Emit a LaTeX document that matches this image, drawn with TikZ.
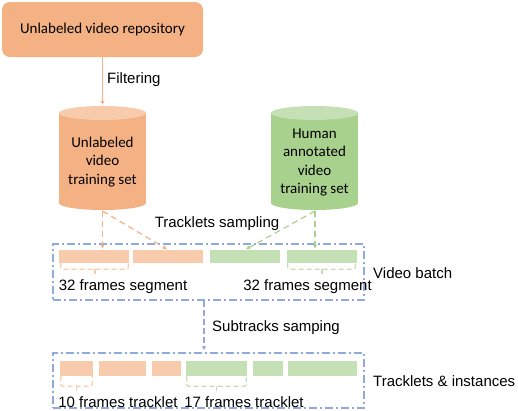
\documentclass[tikz,border=0pt]{standalone}
\usepackage{fontspec}
\setmainfont{Liberation Sans}
\newfontfamily\calfont{Carlito}
\usetikzlibrary{arrows.meta,calc}
\definecolor{org}{HTML}{F4B183}
\definecolor{lorg}{HTML}{F8CBAD}
\definecolor{grn}{HTML}{A9D18E}
\definecolor{lgrn}{HTML}{C5E0B4}
\definecolor{blu}{HTML}{8FAADC}
\tikzset{
  lbl/.style={inner sep=0pt, font=\fontsize{15}{18}\selectfont},
  caltext/.style={inner sep=0pt, align=center, font=\calfont\fontsize{15}{18.5}\selectfont},
  obar/.style={fill=lorg, inner sep=0pt, minimum height=#1},
  gbar/.style={fill=lgrn, inner sep=0pt, minimum height=#1},
  dashbox/.style={draw=blu, line width=1.2pt, dash pattern=on 8pt off 3pt on 2pt off 3pt, inner sep=0pt},
  oarrow/.style={draw=org, line width=1.2pt, dash pattern=on 6pt off 4pt, -{Latex[length=4pt,width=4.5pt]}},
  garrow/.style={draw=grn, line width=1.2pt, dash pattern=on 6pt off 4pt, -{Latex[length=4pt,width=4.5pt]}},
  obrace/.style={draw=lorg, line width=1.2pt, dash pattern=on 5pt off 3pt, rounded corners=1.5pt},
  gbrace/.style={draw=lgrn, line width=1.2pt, dash pattern=on 5pt off 3pt, rounded corners=1.5pt},
}
\begin{document}
\begin{tikzpicture}[x=1pt,y=-1pt]
\useasboundingbox (0,0) rectangle (518,410);

% top box
\node[fill=org, rounded corners=8pt, minimum width=201pt, minimum height=55pt, inner sep=0pt,
      font=\calfont\fontsize{15}{18}\selectfont] (repo) at (102.5,29.5) {Unlabeled video repository};

% left cylinder
\fill[org] (59,113) rectangle (146,203);
\fill[org] (102.5,203) ellipse [x radius=43.5, y radius=7];
\fill[lorg] (102.5,113) ellipse [x radius=43.5, y radius=7];
\coordinate (ltop) at (102.5,106);
\coordinate (lbot) at (102.5,211);
\node[caltext] (lcyl) at (102.5,162) {Unlabeled\\video\\training set};

% right cylinder
\fill[grn] (271,113) rectangle (358,203);
\fill[grn] (314.5,203) ellipse [x radius=43.5, y radius=7];
\fill[lgrn] (314.5,113) ellipse [x radius=43.5, y radius=7];
\coordinate (rbot) at (315,211);
\node[caltext] (rcyl) at (314.5,162.5) {Human\\annotated\\video\\training set};

% filtering
\draw[org, line width=1.2pt, -{Latex[length=4pt,width=4.5pt]}, shorten >=1pt] (repo.south) -- (ltop);
\node[lbl, anchor=west] (filt) at (107,80) {Filtering};

% video batch
\node[dashbox, minimum width=311pt, minimum height=56pt] (vb) at (208.5,272) {};
\node[obar=13pt, minimum width=70pt] (ob1) at (94,256.5) {};
\node[obar=13pt, minimum width=70pt] (ob2) at (168,256.5) {};
\node[gbar=13pt, minimum width=70pt] (gb1) at (245,256.5) {};
\node[gbar=13pt, minimum width=70pt] (gb2) at (322,256.5) {};

\draw[oarrow, shorten >=1pt] (lbot) -- (lbot |- ob1.north);
\draw[oarrow, shorten >=1pt] (lbot) -- (ob2.north);
\draw[garrow, shorten >=1pt] (rbot) -- (gb1.north);
\draw[garrow, shorten >=1pt] (rbot) -- (rbot |- gb2.north);
\node[lbl] (ts) at (217,224) {Tracklets sampling};

\draw[obrace] ($(ob1.south west)+(2,0)$) -- ($(ob1.south west)+(2,6)$) -- ($(ob1.south east)+(-1,6)$) -- ($(ob1.south east)+(-1,0)$);
\draw[obrace] ($(ob1.south)+(1,6)$) -- ($(ob1.south)+(1,13)$);
\draw[gbrace] ($(gb2.south west)+(1,0)$) -- ($(gb2.south west)+(1,6)$) -- ($(gb2.south east)+(-2,6)$) -- ($(gb2.south east)+(-2,0)$);
\draw[gbrace] ($(gb2.south)+(0,6)$) -- ($(gb2.south)+(0,13)$);

\node[lbl] (seg1) at (123,287) {32 frames segment};
\node[lbl] (seg2) at (307.5,287) {32 frames segment};
\node[lbl, anchor=west] (vbl) at (373,273) {Video batch};

% tracklets box
\node[dashbox, minimum width=311pt, minimum height=55pt] (tb) at (208.5,380.5) {};
\draw[draw=blu, line width=1.2pt, dash pattern=on 6pt off 3pt, -{Latex[length=4pt,width=4.5pt]}, shorten >=2pt]
  ($(vb.south)+(-4.5,0)$) -- ($(tb.north)+(-4.5,0)$);
\node[lbl, anchor=west] (sub) at (212,328) {Subtracks samping};

\node[obar=15pt, minimum width=33pt] (o1) at (76.5,368.5) {};
\node[obar=15pt, minimum width=47pt] (o2) at (122.5,368.5) {};
\node[obar=15pt, minimum width=29pt] (o3) at (166.5,368.5) {};
\node[gbar=15pt, minimum width=61pt] (g1) at (216.5,368.5) {};
\node[gbar=15pt, minimum width=30pt] (g2) at (268,368.5) {};
\node[gbar=15pt, minimum width=69pt] (g3) at (322.5,368.5) {};

\draw[obrace] ($(o1.south west)+(1,0)$) -- ($(o1.south west)+(1,10)$) -- ($(o1.south east)+(-1,10)$) -- ($(o1.south east)+(-1,0)$);
\draw[obrace] ($(o1.south)+(0,10)$) -- ($(o1.south)+(0,15)$);
\draw[gbrace] ($(g1.south west)+(1,0)$) -- ($(g1.south west)+(1,10)$) -- ($(g1.south east)+(-1,10)$) -- ($(g1.south east)+(-1,0)$);
\draw[gbrace] ($(g1.south)+(0,10)$) -- ($(g1.south)+(0,15)$);

\node[lbl] (t10) at (118,402) {10 frames tracklet};
\node[lbl] (t17) at (244,402) {17 frames tracklet};
\node[lbl, anchor=west] (til) at (373,381) {Tracklets \& instances};
\end{tikzpicture}
\end{document}
